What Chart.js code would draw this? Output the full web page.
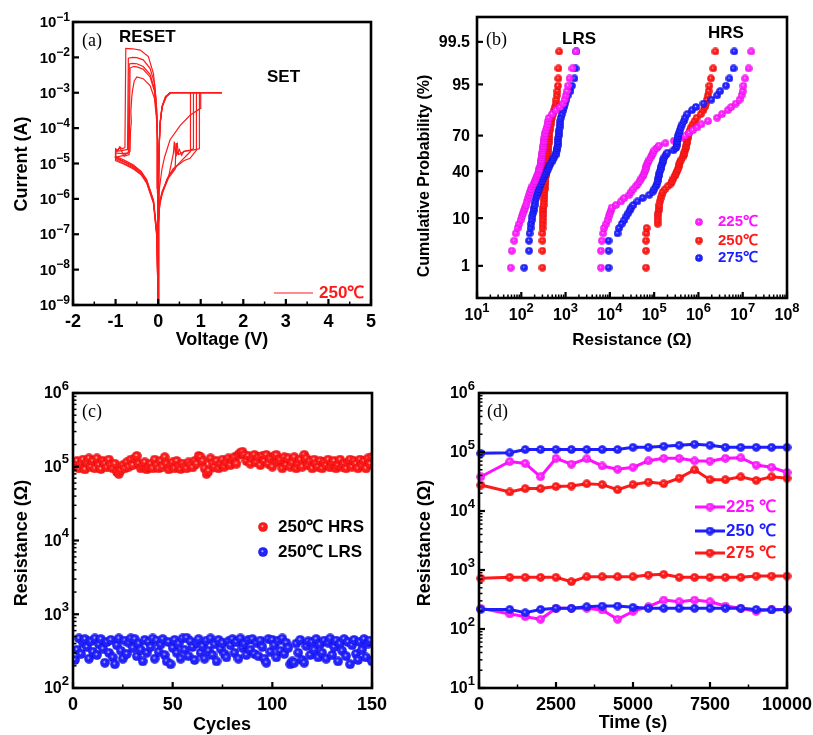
<!DOCTYPE html>
<html>
<head>
<meta charset="utf-8">
<script src="https://cdn.jsdelivr.net/npm/chart.js@4.4.0/dist/chart.umd.min.js"></script>
<style>
  body { margin: 0; background: #fff; width: 813px; height: 735px; position: relative; overflow: hidden; }
  canvas { position: absolute; }
</style>
</head>
<body>
<canvas id="chartA" style="left:0;top:0" width="400" height="365"></canvas>
<canvas id="chartB" style="left:400px;top:0" width="413" height="365"></canvas>
<canvas id="chartC" style="left:0;top:365px" width="400" height="370"></canvas>
<canvas id="chartD" style="left:400px;top:365px" width="413" height="370"></canvas>
<script>
// ---- (a) I-V sweeps at 250 C, [voltage, |current|] in sweep order
const sweep1 = [[0,1e-9],[0.01,2e-7],[0.03,6e-7],[0.09,1.3e-6],[0.2,3.5e-6],[0.35,7e-6],[0.45,9e-6],[0.55,1.2e-5],[0.65,1.6e-5],[0.76,2.2e-5],[0.76,1e-3],[1.5,1e-3],[0.3,1e-3],[0.2,8e-4],[0.1,4.5e-4],[0.05,1.6e-4],[0.025,3.5e-5],[0.01,4e-6],[0,1e-9],
  [-0.005,3e-6],[-0.016,7e-5],[-0.047,6.3e-4],[-0.11,3.5e-3],[-0.23,1.05e-2],[-0.42,1.6e-2],[-0.6,1.75e-2],[-0.76,1.8e-2],[-0.78,2.8e-5],[-0.85,2.6e-5],[-0.9,3e-5],[-0.95,2.4e-5],[-1,2.6e-5],[-1,1.6e-5],[-0.8,1.25e-5],[-0.58,9e-6],[-0.4,6e-6],[-0.27,3.5e-6],[-0.11,9e-7],[-0.03,1.2e-7],[0,1e-9]];
const sweep2 = [[0,1e-9],[0.01,2.5e-7],[0.04,8e-7],[0.1,1.6e-6],[0.25,4.5e-6],[0.36,2e-5],[0.38,4.2e-5],[0.4,2.2e-5],[0.45,3.5e-5],[0.48,1.8e-5],[0.55,2e-5],[0.65,2.3e-5],[0.75,2.4e-5],[0.83,2.6e-5],[0.83,1e-3],[1.5,1e-3],[0.29,1e-3],[0.18,7.5e-4],[0.09,3.8e-4],[0.045,1.3e-4],[0.022,3e-5],[0.01,3e-6],[0,1e-9],
  [-0.005,2e-6],[-0.018,6e-5],[-0.031,3.2e-4],[-0.087,1.9e-3],[-0.19,4.9e-3],[-0.35,8.5e-3],[-0.5,9.8e-3],[-0.6,1.0e-2],[-0.7,9.5e-3],[-0.72,2.5e-5],[-0.85,2.3e-5],[-1,2.2e-5],[-1,1.4e-5],[-0.8,1.1e-5],[-0.58,8e-6],[-0.4,5.5e-6],[-0.27,3.2e-6],[-0.11,8.5e-7],[-0.03,1e-7],[0,1e-9]];
const sweep3 = [[0,1e-9],[0.01,2e-7],[0.04,9e-7],[0.1,1.7e-6],[0.25,4.5e-6],[0.44,8.5e-6],[0.6,1.2e-5],[0.75,1.4e-5],[0.85,2e-5],[0.9,2.4e-5],[0.9,1e-3],[1.5,1e-3],[0.27,1e-3],[0.16,7e-4],[0.085,3.6e-4],[0.045,1.2e-4],[0.022,2.5e-5],[0.01,2.5e-6],[0,1e-9],
  [-0.005,2e-6],[-0.018,5e-5],[-0.031,2.3e-4],[-0.087,1.3e-3],[-0.19,3.3e-3],[-0.35,5.5e-3],[-0.5,6.6e-3],[-0.6,6.8e-3],[-0.68,6.5e-3],[-0.7,2e-5],[-0.85,1.9e-5],[-1,2e-5],[-1,1.3e-5],[-0.8,1e-5],[-0.58,7.5e-6],[-0.4,5e-6],[-0.27,3e-6],[-0.11,8e-7],[-0.03,9e-8],[0,1e-9]];
const sweep4 = [[0,1e-9],[0.01,2e-7],[0.04,8e-7],[0.1,1.5e-6],[0.25,4e-6],[0.4,7e-6],[0.42,3.8e-5],[0.44,1.8e-5],[0.5,2.5e-5],[0.55,1.7e-5],[0.6,2.2e-5],[0.75,2.3e-5],[0.9,2.5e-5],[0.97,2.6e-5],[0.97,1e-3],[1.5,1e-3],[0.3,1e-3],[0.19,8e-4],[0.1,4.2e-4],[0.05,1.5e-4],[0.025,3.3e-5],[0.01,3.5e-6],[0,1e-9],
  [-0.005,2e-6],[-0.018,5e-5],[-0.031,2e-4],[-0.087,1.1e-3],[-0.19,2.8e-3],[-0.35,4.6e-3],[-0.5,5.4e-3],[-0.58,5.5e-3],[-0.66,5e-3],[-0.68,1.8e-5],[-0.8,1.6e-5],[-0.9,2.8e-5],[-0.95,2.3e-5],[-1,2.4e-5],[-1,1.2e-5],[-0.8,9.5e-6],[-0.58,7e-6],[-0.4,4.8e-6],[-0.27,2.8e-6],[-0.11,7.5e-7],[-0.03,8e-8],[0,1e-9]];
const sweep5 = [[0,1e-9],[0.01,4e-7],[0.03,2e-6],[0.09,7e-6],[0.15,1.5e-5],[0.28,4.7e-5],[0.52,1.2e-4],[0.75,2.3e-4],[0.99,3.6e-4],[1.0,1e-3],[1.5,1e-3],[0.28,1e-3],[0.17,7.8e-4],[0.09,4e-4],[0.047,1.4e-4],[0.024,3e-5],[0.01,3e-6],[0,1e-9],
  [-0.005,1.5e-6],[-0.018,4e-5],[-0.031,1.5e-4],[-0.087,7e-4],[-0.19,1.6e-3],[-0.35,2.5e-3],[-0.5,2.8e-3],[-0.56,2.2e-3],[-0.6,1.2e-3],[-0.62,7.5e-4],[-0.64,3e-4],[-0.63,1.5e-4],[-0.65,8e-5],[-0.66,2.2e-5],[-0.8,1.7e-5],[-1,1.5e-5],[-0.8,1.15e-5],[-0.58,8.5e-6],[-0.4,5.8e-6],[-0.27,3.3e-6],[-0.11,9e-7],[-0.03,1e-7],[0,1e-9]];
const aXTicks = [-2, -1, 0, 1, 2, 3, 4, 5];
const aYTicks = [1e-9, 1e-8, 1e-7, 1e-6, 1e-5, 1e-4, 1e-3, 1e-2, 1e-1];

// ---- (b) cumulative probability (%) and resistance (ohm)
const probLevels = [0.9, 2.3, 3.8, 5.3, 6.7, 8, 9.3, 10.7, 12, 13.3, 14.7, 16, 18, 20, 22, 24, 26, 28, 30, 32, 34, 36, 38, 40, 42, 44, 46, 48, 50, 52, 54, 56, 58, 60, 62, 64, 66, 68, 70, 72, 74, 76, 78, 80, 82, 84, 86, 87.5, 89, 90.5, 92, 93.3, 94.7, 96.2, 97.7, 99.1];
const lrs225 = [58, 61, 69, 75, 83, 90, 97, 103, 110, 117, 124, 130, 136, 145, 152, 158, 166, 178, 193, 203, 215, 227, 238, 247, 255, 266, 274, 280, 286, 292, 297, 301, 307, 312, 317, 319, 328, 334, 340, 347, 358, 373, 391, 408, 425, 494, 610, 752, 880, 950, 1025, 1085, 1140, 1230, 1430, 1710];
const lrs250 = [300, 300, 300, 300, 303, 303, 307, 311, 311, 313, 315, 318, 322, 328, 331, 334, 337, 340, 345, 348, 352, 355, 359, 363, 367, 371, 375, 379, 383, 387, 391, 395, 399, 404, 408, 412, 416, 421, 425, 432, 439, 448, 462, 479, 496, 522, 552, 576, 603, 622, 638, 656, 673, 687, 691, 716];
const lrs275 = [116, 150, 150, 154, 162, 167, 173, 179, 185, 189, 194, 199, 208, 217, 226, 237, 248, 259, 274, 292, 311, 328, 354, 383, 408, 430, 455, 483, 517, 552, 594, 612, 628, 644, 662, 666, 673, 683, 693, 704, 716, 734, 752, 764, 780, 833, 894, 928, 980, 1045, 1120, 1290, 1390, 1590, 1680, 1750];
const hrs225 = [6300, 6300, 6600, 7050, 7400, 8300, 8870, 9400, 10000, 10600, 11000, 13800, 17900, 21200, 27500, 30600, 34000, 38500, 43500, 47400, 51400, 56600, 59000, 61600, 64200, 66500, 70300, 73900, 78500, 83800, 89700, 95700, 101000, 115000, 128000, 180000, 280000, 400000, 500000, 620000, 752000, 950000, 1170000, 1650000, 2650000, 3400000, 4600000, 5500000, 7000000, 8500000, 9400000, 1.0e7, 1.04e7, 1.13e7, 1.36e7, 1.56e7];
const hrs250 = [65600, 65600, 65600, 66600, 67700, 120000, 120000, 120000, 123000, 126000, 129000, 132000, 134000, 140000, 147000, 156000, 179000, 203000, 240000, 257000, 273000, 292000, 310000, 330000, 347000, 362000, 372000, 384000, 413000, 438000, 464000, 483000, 505000, 522000, 531000, 548000, 560000, 570000, 582000, 612000, 648000, 678000, 740000, 820000, 910000, 1130000, 1300000, 1390000, 1480000, 1550000, 1640000, 1700000, 1770000, 1920000, 2160000, 2420000];
const hrs275 = [9350, 9350, 9350, 14900, 16200, 18600, 21300, 23600, 26000, 28100, 30600, 34000, 42000, 55000, 77900, 93000, 101000, 110000, 118000, 121000, 124000, 128000, 131000, 135000, 141000, 146000, 150000, 158000, 162000, 170000, 184000, 199000, 273000, 310000, 323000, 331000, 335000, 338000, 345000, 362000, 381000, 400000, 432000, 472000, 505000, 560000, 715000, 880000, 1300000, 1970000, 2650000, 3100000, 4200000, 5000000, 6200000, 6450000];
const bXTicks = [1e1, 1e2, 1e3, 1e4, 1e5, 1e6, 1e7, 1e8];
const bYTicks = [1, 10, 40, 70, 95, 99.5];

// ---- (c) endurance at 250 C, one value per cycle (1..150)
const cycHRS = [
  1.0e5, 1.2e5, 0.95e5, 1.1e5, 1.25e5, 0.92e5, 1.15e5, 1.3e5, 1.0e5, 1.2e5,
  0.95e5, 1.3e5, 1.05e5, 0.93e5, 1.2e5, 1.1e5, 0.98e5, 1.25e5, 1.05e5, 0.95e5,
  1.1e5, 0.85e5, 0.8e5, 0.9e5, 1.05e5, 0.95e5, 1.15e5, 1.0e5, 1.25e5, 1.05e5,
  1.3e5, 1.4e5, 1.1e5, 0.95e5, 1.05e5, 1.15e5, 0.92e5, 1.0e5, 1.1e5, 0.95e5,
  1.25e5, 1.05e5, 0.95e5, 1.2e5, 1.0e5, 1.35e5, 1.1e5, 0.92e5, 1.05e5, 1.15e5,
  0.95e5, 1.2e5, 1.0e5, 0.93e5, 1.1e5, 1.0e5, 0.95e5, 1.15e5, 1.05e5, 0.98e5,
  1.2e5, 1.1e5, 1.4e5, 1.35e5, 1.2e5, 0.95e5, 0.8e5, 0.88e5, 1.3e5, 1.1e5,
  1.0e5, 1.2e5, 0.95e5, 1.1e5, 1.25e5, 1.0e5, 1.15e5, 1.3e5, 1.05e5, 1.25e5,
  1.35e5, 1.1e5, 1.45e5, 1.55e5, 1.6e5, 1.45e5, 1.2e5, 1.4e5, 1.1e5, 1.3e5,
  1.45e5, 1.15e5, 1.35e5, 1.05e5, 1.4e5, 1.2e5, 1.45e5, 1.1e5, 1.3e5, 1.0e5,
  1.4e5, 1.45e5, 1.15e5, 1.25e5, 0.95e5, 1.35e5, 1.05e5, 1.3e5, 1.0e5, 1.15e5,
  1.35e5, 0.95e5, 1.1e5, 1.25e5, 1.0e5, 1.45e5, 1.3e5, 1.05e5, 1.2e5, 0.95e5,
  1.25e5, 1.1e5, 1.0e5, 1.2e5, 0.95e5, 1.15e5, 1.05e5, 1.25e5, 0.98e5, 1.1e5,
  1.2e5, 0.95e5, 1.05e5, 1.25e5, 1.0e5, 1.1e5, 0.95e5, 1.15e5, 1.25e5, 1.0e5,
  1.2e5, 1.1e5, 0.95e5, 1.25e5, 1.05e5, 1.2e5, 0.95e5, 1.3e5, 1.1e5, 1.35e5];
const cycLRS = [
  240, 330, 470, 290, 410, 460, 360, 250, 430, 310,
  470, 280, 390, 460, 340, 220, 420, 300, 450, 260,
  210, 380, 470, 320, 250, 440, 290, 410, 470, 350,
  460, 270, 400, 330, 230, 450, 300, 420, 360, 470,
  250, 440, 310, 390, 460, 280, 230, 420, 210, 350,
  450, 300, 400, 250, 470, 330, 480, 270, 430, 360,
  240, 410, 460, 300, 370, 250, 440, 320, 470, 280,
  390, 230, 450, 340, 410, 290, 260, 430, 380, 460,
  300, 420, 250, 470, 350, 400, 280, 450, 330, 460,
  290, 410, 270, 440, 360, 250, 220, 460, 310, 450,
  380, 260, 440, 320, 470, 290, 410, 350, 210, 230,
  220, 400, 300, 450, 240, 220, 370, 430, 280, 420,
  330, 460, 260, 390, 300, 440, 250, 410, 470, 280,
  360, 440, 230, 400, 320, 460, 270, 420, 210, 380,
  450, 290, 240, 420, 330, 460, 260, 400, 440, 230];
const cXTicks = [0, 50, 100, 150];
const cYTicks = [1e2, 1e3, 1e4, 1e5, 1e6];

// ---- (d) retention (s, ohm)
const retTime = [60, 1000, 1500, 2000, 2500, 3000, 3500, 4000, 4500, 5000, 5500, 6000, 6500, 7000, 7500, 8000, 8500, 9000, 9500, 10000];
const retHRS225 = [3.8e4, 6.9e4, 6.4e4, 3.8e4, 7.8e4, 6.2e4, 7.7e4, 5.8e4, 5.1e4, 5.5e4, 7.1e4, 7.8e4, 7.8e4, 7.1e4, 7.0e4, 7.8e4, 8.0e4, 6.0e4, 5.5e4, 4.5e4];
const retHRS250 = [9.5e4, 9.7e4, 1.1e5, 1.1e5, 1.1e5, 1.1e5, 1.1e5, 1.1e5, 1.1e5, 1.2e5, 1.2e5, 1.25e5, 1.3e5, 1.35e5, 1.3e5, 1.2e5, 1.2e5, 1.2e5, 1.2e5, 1.2e5];
const retHRS275 = [2.75e4, 2.1e4, 2.4e4, 2.4e4, 2.6e4, 2.65e4, 2.9e4, 2.8e4, 2.3e4, 2.8e4, 3.1e4, 2.9e4, 3.6e4, 5.0e4, 3.4e4, 3.4e4, 3.8e4, 3.3e4, 3.8e4, 3.6e4];
const retLRS225 = [224, 180, 162, 146, 224, 224, 224, 210, 146, 199, 239, 309, 290, 309, 290, 245, 224, 199, 215, 215];
const retLRS250 = [215, 215, 189, 215, 224, 224, 239, 245, 245, 233, 224, 224, 224, 224, 224, 224, 224, 215, 210, 215];
const retLRS275 = [723, 751, 751, 751, 751, 634, 771, 771, 771, 771, 822, 845, 751, 751, 751, 751, 751, 791, 791, 791];
const dXTicks = [0, 2500, 5000, 7500, 10000];
const dYTicks = [1e1, 1e2, 1e3, 1e4, 1e5, 1e6];

const SANS = '"Liberation Sans", Arial, sans-serif';
const SERIF = '"Liberation Serif", "Times New Roman", serif';
const RED = '#ff1a1a', BLUE = '#1e1eff', MAG = '#ff10ff';

// shaded sphere used as point style
function ball(color, light, dark, d) {
  const c = document.createElement('canvas');
  c.width = c.height = d;
  const g = c.getContext('2d');
  const r = d / 2;
  const gr = g.createRadialGradient(r * 0.85, r * 0.8, 0, r, r, r);
  gr.addColorStop(0, light);
  gr.addColorStop(0.3, color);
  gr.addColorStop(0.8, color);
  gr.addColorStop(1, dark);
  g.fillStyle = gr;
  g.beginPath();
  g.arc(r, r, r - 0.2, 0, Math.PI * 2);
  g.fill();
  return c;
}
const balls = d => ({
  red: ball('#ff1a1a', '#ffe8e8', '#c80000', d),
  blue: ball('#2222ff', '#e8e8ff', '#0000b8', d),
  mag: ball('#ff20ff', '#ffe8ff', '#c000c0', d)
});
const ballB = balls(8), ballC = balls(10), ballD = balls(9);

// inverse normal cdf (probability axis of panel b)
function probit(p) {
  const a = [-3.969683028665376e+01, 2.209460984245205e+02, -2.759285104469687e+02, 1.383577518672690e+02, -3.066479806614716e+01, 2.506628277459239e+00];
  const b = [-5.447609879822406e+01, 1.615858368580409e+02, -1.556989798598866e+02, 6.680131188771972e+01, -1.328068155288572e+01];
  const c = [-7.784894002430293e-03, -3.223964580411365e-01, -2.400758277161838e+00, -2.549732539343734e+00, 4.374664141464968e+00, 2.938163982698783e+00];
  const d = [7.784695709041462e-03, 3.224671290700398e-01, 2.445134137142996e+00, 3.754408661907416e+00];
  const lo = 0.02425;
  if (p < lo || p > 1 - lo) {
    const q = Math.sqrt(-2 * Math.log(p < lo ? p : 1 - p));
    const v = (((((c[0] * q + c[1]) * q + c[2]) * q + c[3]) * q + c[4]) * q + c[5]) / ((((d[0] * q + d[1]) * q + d[2]) * q + d[3]) * q + 1);
    return p < lo ? v : -v;
  }
  const q = p - 0.5, r = q * q;
  return (((((a[0] * r + a[1]) * r + a[2]) * r + a[3]) * r + a[4]) * r + a[5]) * q / (((((b[0] * r + b[1]) * r + b[2]) * r + b[3]) * r + b[4]) * r + 1);
}

function txt(ctx, s, x, y, o = {}) {
  ctx.font = `${o.weight || 'bold'} ${o.size || 17}px ${o.family || SANS}`;
  ctx.fillStyle = o.color || '#000';
  ctx.textAlign = o.align || 'left';
  ctx.textBaseline = 'middle';
  if (o.rotate) {
    ctx.save();
    ctx.translate(x, y);
    ctx.rotate(-Math.PI / 2);
    ctx.fillText(s, 0, 0);
    ctx.restore();
  } else {
    ctx.fillText(s, x, y);
  }
}

// "10" with a raised exponent
function pow10(ctx, v, x, y, align, big, small, rise) {
  const e = String(Math.round(Math.log10(v))).replace('-', '\u2212');
  ctx.font = `bold ${big}px ${SANS}`;
  const w1 = ctx.measureText('10').width;
  ctx.font = `bold ${small}px ${SANS}`;
  const w2 = ctx.measureText(e).width;
  const x0 = align === 'right' ? x - w1 - w2 : x - (w1 + w2) / 2;
  txt(ctx, '10', x0, y, { size: big });
  txt(ctx, e, x0 + w1, y - rise, { size: small });
}

function minors(vals, log) {
  const out = [];
  for (let i = 0; i < vals.length - 1; i++) {
    if (log) for (let k = 2; k < 10; k++) out.push(vals[i] * k);
    else out.push((vals[i] + vals[i + 1]) / 2);
  }
  return out;
}

// frame, inward ticks, tick labels, titles, annotations
function decoPlugin(p) {
  return {
    id: 'deco',
    afterDatasetsDraw(chart) {
      const ctx = chart.ctx, a = chart.chartArea;
      const xs = chart.scales.x, ys = chart.scales.y;
      const xv = xs.ticks.map(t => t.value), yv = ys.ticks.map(t => t.value);
      ctx.save();
      ctx.strokeStyle = '#000';
      const seg = (x1, y1, x2, y2, w) => {
        ctx.lineWidth = w;
        ctx.beginPath(); ctx.moveTo(x1, y1); ctx.lineTo(x2, y2); ctx.stroke();
      };
      minors(xv, p.xLog).forEach(v => { const x = xs.getPixelForValue(v); seg(x, a.bottom, x, a.bottom - 3.5, 1.5); });
      xv.forEach(v => { const x = xs.getPixelForValue(v); seg(x, a.bottom, x, a.bottom - 6, 2.2); });
      if (p.yMinor) minors(yv, p.yLog).forEach(v => { const y = ys.getPixelForValue(v); seg(a.left, y, a.left + 3.5, y, 1.5); });
      yv.forEach(v => { const y = ys.getPixelForValue(v); seg(a.left, y, a.left + 6, y, 2.2); });
      ctx.lineWidth = 2.6;
      ctx.strokeRect(a.left, a.top, a.right - a.left, a.bottom - a.top);

      xv.forEach(v => {
        const x = xs.getPixelForValue(v);
        if (p.xLog) pow10(ctx, v, x, p.xLabY, 'center', p.xBig, p.xSmall, p.xRise);
        else txt(ctx, String(v), x, p.xLabY, { size: p.xSize, align: 'center' });
      });
      yv.forEach((v, i) => {
        const y = ys.getPixelForValue(v);
        if (p.yLog) pow10(ctx, v, p.yLabX, y + 1, 'right', p.yBig, p.ySmall, p.yRise);
        else txt(ctx, p.yText[i], p.yLabX, y + 1, { size: p.ySize, align: 'right' });
      });
      txt(ctx, p.xTitle.text, p.xTitle.x, p.xTitle.y, { size: p.xTitle.size, align: 'center' });
      txt(ctx, p.yTitle.text, p.yTitle.x, p.yTitle.y, { size: p.yTitle.size, align: 'center', rotate: true });
      txt(ctx, p.tag.text, p.tag.x, p.tag.y, { family: SERIF, weight: 'normal', size: 18 });
      if (p.extra) p.extra(ctx);
      ctx.restore();
    }
  };
}

function axis(type, min, max, ticks, size, isX) {
  return {
    type, min, max,
    afterBuildTicks: s => { s.ticks = ticks.map(v => ({ value: v })); },
    afterFit: s => { if (isX) s.height = size; else s.width = size; },
    ticks: { display: false },
    grid: { display: false },
    border: { display: false }
  };
}

function baseOptions(pad, scales) {
  return {
    responsive: false,
    animation: false,
    events: [],
    layout: { padding: pad, autoPadding: false },
    plugins: { legend: { display: false }, tooltip: { enabled: false } },
    scales
  };
}

const pts = arr => arr.map(p => ({ x: p[0], y: p[1] }));

// ---- (a)
new Chart(document.getElementById('chartA'), {
  type: 'scatter',
  data: {
    datasets: [sweep1, sweep2, sweep3, sweep4, sweep5].map(s => ({
      data: pts(s), showLine: true, borderColor: RED, borderWidth: 1.2,
      pointRadius: 0, tension: 0
    }))
  },
  options: baseOptions({ left: 0, top: 22, right: 29, bottom: 0 }, {
    x: axis('linear', -2, 5, aXTicks, 60, true),
    y: axis('logarithmic', 1e-9, 1e-1, aYTicks, 73, false)
  }),
  plugins: [decoPlugin({
    xLabY: 322, xSize: 18,
    yLog: true, yLabX: 70, yBig: 15, ySmall: 12, yRise: 5.5, yMinor: false,
    xTitle: { text: 'Voltage (V)', x: 222, y: 340, size: 18 },
    yTitle: { text: 'Current (A)', x: 22, y: 164, size: 18 },
    tag: { text: '(a)', x: 82, y: 41 },
    extra: ctx => {
      txt(ctx, 'RESET', 119, 37, { size: 17 });
      txt(ctx, 'SET', 267, 77, { size: 17 });
      ctx.strokeStyle = RED; ctx.lineWidth = 1.2;
      ctx.beginPath(); ctx.moveTo(274, 293); ctx.lineTo(313, 293); ctx.stroke();
      txt(ctx, '250\u2103', 319, 293, { size: 17, color: RED });
    }
  })]
});

// ---- (b)
const probPts = rs => rs.map((r, i) => ({ x: r, y: probit(probLevels[i] / 100) }));
const bSet = (rs, img) => ({ data: probPts(rs), pointStyle: img, pointRadius: 4 });
new Chart(document.getElementById('chartB'), {
  type: 'scatter',
  data: {
    datasets: [
      bSet(lrs225, ballB.mag), bSet(lrs275, ballB.blue), bSet(lrs250, ballB.red),
      bSet(hrs275, ballB.blue), bSet(hrs225, ballB.mag), bSet(hrs250, ballB.red)
    ]
  },
  options: baseOptions({ left: 0, top: 17, right: 26, bottom: 0 }, {
    x: axis('logarithmic', 1e1, 1e8, bXTicks, 67, true),
    y: axis('linear', -3.03, 3.12, bYTicks.map(v => probit(v / 100)), 77, false)
  }),
  plugins: [decoPlugin({
    xLog: true, xLabY: 316, xBig: 16, xSmall: 13, xRise: 8,
    yText: bYTicks.map(String), yLabX: 70, ySize: 16,
    xTitle: { text: 'Resistance (\u03A9)', x: 232, y: 340, size: 17 },
    yTitle: { text: 'Cumulative Probability (%)', x: 25, y: 176, size: 16 },
    tag: { text: '(b)', x: 86, y: 40 },
    extra: ctx => {
      txt(ctx, 'LRS', 162, 39, { size: 17 });
      txt(ctx, 'HRS', 308, 33, { size: 17 });
      [['225\u2103', ballB.mag, MAG, 222], ['250\u2103', ballB.red, RED, 240.5], ['275\u2103', ballB.blue, BLUE, 258]]
        .forEach(([label, img, col, y]) => {
          ctx.drawImage(img, 299 - img.width / 2, y - img.height / 2);
          txt(ctx, label, 318, y, { size: 15, color: col });
        });
    }
  })]
});

// ---- (c)
new Chart(document.getElementById('chartC'), {
  type: 'scatter',
  data: {
    datasets: [
      { data: cycHRS.map((v, i) => ({ x: i + 1, y: v })), pointStyle: ballC.red, pointRadius: 5 },
      { data: cycLRS.map((v, i) => ({ x: i + 1, y: v })), pointStyle: ballC.blue, pointRadius: 5 }
    ]
  },
  options: baseOptions({ left: 0, top: 28, right: 28, bottom: 0 }, {
    x: axis('linear', 0, 150, cXTicks, 47, true),
    y: axis('logarithmic', 1e2, 1e6, cYTicks, 73, false)
  }),
  plugins: [decoPlugin({
    xLabY: 340, xSize: 18,
    yLog: true, yLabX: 69, yBig: 16, ySmall: 13, yRise: 8, yMinor: true,
    xTitle: { text: 'Cycles', x: 222, y: 360, size: 18 },
    yTitle: { text: 'Resistance (\u03A9)', x: 22, y: 178, size: 18 },
    tag: { text: '(c)', x: 82, y: 47 },
    extra: ctx => {
      ctx.drawImage(ballC.red, 263 - 5, 162 - 5);
      ctx.drawImage(ballC.blue, 263 - 5, 187 - 5);
      txt(ctx, '250\u2103 HRS', 278, 162, { size: 17 });
      txt(ctx, '250\u2103 LRS', 278, 187, { size: 17 });
    }
  })]
});

// ---- (d)
const dSet = (vals, col, img) => ({
  data: vals.map((v, i) => ({ x: retTime[i], y: v })), showLine: true,
  borderColor: col, borderWidth: 3, pointStyle: img, pointRadius: 4.5, tension: 0, clip: false
});
new Chart(document.getElementById('chartD'), {
  type: 'scatter',
  data: {
    datasets: [
      dSet(retHRS250, BLUE, ballD.blue), dSet(retLRS250, BLUE, ballD.blue),
      dSet(retHRS225, MAG, ballD.mag), dSet(retLRS225, MAG, ballD.mag),
      dSet(retHRS275, RED, ballD.red), dSet(retLRS275, RED, ballD.red)
    ]
  },
  options: baseOptions({ left: 0, top: 28, right: 26, bottom: 0 }, {
    x: axis('linear', 0, 10000, dXTicks, 47, true),
    y: axis('logarithmic', 1e1, 1e6, dYTicks, 79, false)
  }),
  plugins: [decoPlugin({
    xLabY: 340, xSize: 18,
    yLog: true, yLabX: 75, yBig: 16, ySmall: 13, yRise: 8, yMinor: true,
    xTitle: { text: 'Time (s)', x: 233, y: 358, size: 18 },
    yTitle: { text: 'Resistance (\u03A9)', x: 25, y: 178, size: 18 },
    tag: { text: '(d)', x: 87, y: 47 },
    extra: ctx => {
      [['225 \u2103', MAG, ballD.mag, 142], ['250 \u2103', BLUE, ballD.blue, 166], ['275 \u2103', RED, ballD.red, 188]]
        .forEach(([label, col, img, y]) => {
          ctx.strokeStyle = col; ctx.lineWidth = 3;
          ctx.beginPath(); ctx.moveTo(295, y); ctx.lineTo(325, y); ctx.stroke();
          ctx.drawImage(img, 310 - img.width / 2, y - img.height / 2);
          txt(ctx, label, 326, y, { size: 17, color: col });
        });
    }
  })]
});
</script>
</body>
</html>
